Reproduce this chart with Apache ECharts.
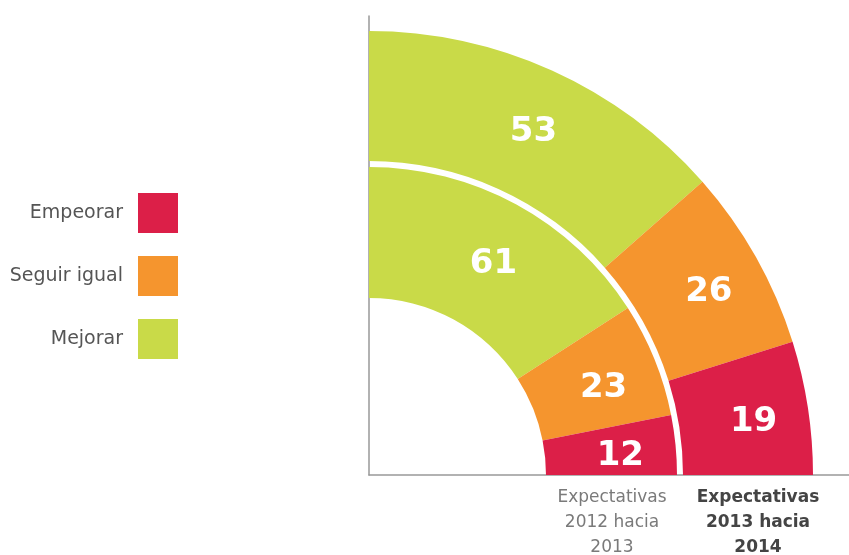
<!DOCTYPE html>
<html>
<head>
<meta charset="utf-8">
<script src="https://cdn.jsdelivr.net/npm/echarts@6/dist/echarts.min.js"></script>
<style>
  html, body { margin: 0; padding: 0; background: #ffffff; }
  #chart { width: 849px; height: 555px; }
</style>
</head>
<body>
<div id="chart"></div>
<script>
// categories, top of the quarter first
const categories = ['Mejorar', 'Seguir igual', 'Empeorar'];
const values2012 = [61, 23, 12];   // inner ring
const values2013 = [53, 26, 19];   // outer ring
const legendOrder = ['Empeorar', 'Seguir igual', 'Mejorar'];
const periodLabels = ['Expectativas\n2012 hacia\n2013', 'Expectativas\n2013 hacia\n2014'];

const colors = {
  'Mejorar': '#c9da48',
  'Seguir igual': '#f5952e',
  'Empeorar': '#dc1f48'
};

const FONT = 'DejaVu Sans';

function ringData(values) {
  return categories.map(function (name, i) {
    return { name: name, value: values[i], itemStyle: { color: colors[name] } };
  });
}

function ring(name, values, radius) {
  return {
    name: name,
    type: 'pie',
    center: [369, 475],
    radius: radius,
    startAngle: 90,
    endAngle: 0,
    clockwise: true,
    silent: true,
    label: {
      show: true,
      position: 'inside',
      formatter: '{c}',
      color: '#ffffff',
      fontFamily: FONT,
      fontWeight: 'bold',
      fontSize: 34,
      offset: [7, 5]
    },
    labelLine: { show: false },
    data: ringData(values)
  };
}

const chart = echarts.init(document.getElementById('chart'));

const option = {
  backgroundColor: '#ffffff',
  animation: false,
  legend: {
    data: legendOrder,
    orient: 'vertical',
    right: 671,
    top: 193,
    padding: 0,
    align: 'right',
    icon: 'rect',
    itemWidth: 40,
    itemHeight: 40,
    itemGap: 23,
    selectedMode: false,
    textStyle: {
      fontFamily: FONT,
      fontSize: 19,
      color: '#555555',
      padding: [0, 10, 0, 0]
    }
  },
  grid: { left: 369, top: 16, right: 0, bottom: 80 },
  xAxis: {
    type: 'value', min: 0, max: 1,
    axisLine: { show: true, lineStyle: { color: '#999999', width: 1.5 } },
    axisTick: { show: false }, axisLabel: { show: false }, splitLine: { show: false }
  },
  yAxis: {
    type: 'value', min: 0, max: 1,
    axisLine: { show: true, lineStyle: { color: '#999999', width: 1.5 } },
    axisTick: { show: false }, axisLabel: { show: false }, splitLine: { show: false }
  },
  graphic: [
    {
      type: 'text', x: 612, y: 485,
      style: {
        text: periodLabels[0], align: 'center', lineHeight: 25,
        font: '17px "' + FONT + '"', fill: '#7a7a7a'
      }
    },
    {
      type: 'text', x: 758, y: 485,
      style: {
        text: periodLabels[1], align: 'center', lineHeight: 25,
        font: 'bold 17px "' + FONT + '"', fill: '#444444'
      }
    }
  ],
  series: [
    ring('2012', values2012, [177, 308]),
    ring('2013', values2013, [314, 444])
  ]
};

chart.setOption(option);
</script>
</body>
</html>
